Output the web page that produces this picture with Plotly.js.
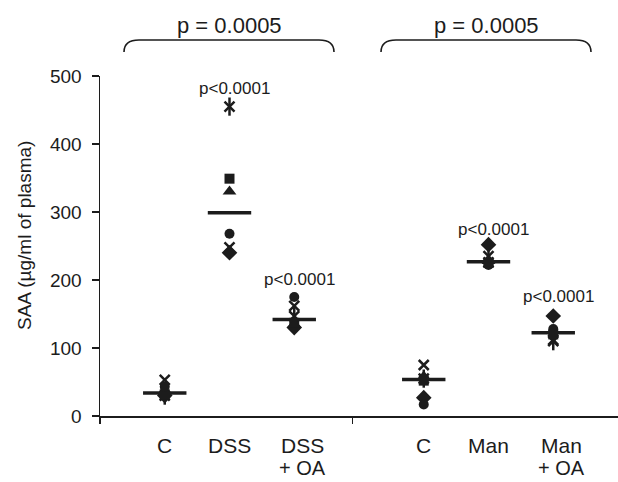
<!DOCTYPE html>
<html>
<head>
<meta charset="utf-8">
<script src="https://cdn.plot.ly/plotly-3.0.1.min.js"></script>
</head>
<body style="margin:0;background:#fff">
<div id="chart" style="width:618px;height:482px"></div>
<script>
// ---- data ----
const groupLine1 = ['C', 'DSS', 'DSS', 'C', 'Man', 'Man'];
const groupLine2 = ['', '', '+ OA', '', '', '+ OA'];
const groupPos = [1, 2, 3, 5, 6, 7];
const valCross   = [53, 248, 162, 75, 226, 112];
const valCircle  = [43, 268, 175, 17, 222, 128];
const valTri     = [36, 330, 135, 58, 228, 125];
const valSquare  = [32, 349, 137, 52, 225, 120];
const valDiamond = [30, 240, 130, 27, 252, 147];
const valStar    = [30, 455, 147, 55, 235, 110];
const pGroupIdx = [1, 2, 4, 5];
const pGroupText = ['p<0.0001', 'p<0.0001', 'p<0.0001', 'p<0.0001'];
const bracketText = ['p = 0.0005', 'p = 0.0005'];

// ---- helpers ----
const INK = '#1c1c1c';
const L = 100, T = 76, PW = 518, PH = 340;
const fx = X => (X - L) / PW;
const fy = Y => (T + PH - Y) / PH;

function median(arr) {
  const s = arr.slice().sort((a, b) => a - b);
  const n = s.length;
  return n % 2 ? s[(n - 1) / 2] : (s[n / 2 - 1] + s[n / 2]) / 2;
}
const allSeries = [valCross, valCircle, valTri, valSquare, valDiamond, valStar];
const medians = groupPos.map((_, i) => median(allSeries.map(s => s[i])));

function mk(vals, symbol, size, open) {
  return {
    type: 'scatter', mode: 'markers', x: groupPos, y: vals, hoverinfo: 'skip',
    marker: open
      ? {symbol: symbol, size: size, color: INK, line: {color: INK, width: 2.5}}
      : {symbol: symbol, size: size, color: INK, line: {width: 0}}
  };
}

const traces = [
  mk(valCross, 'x-thin-open', 10, true),
  mk(valStar, 'x-thin-open', 10, true),
  mk(valStar, 'line-ns-open', 13, true),
  mk(valDiamond, 'diamond', 12, false),
  mk(valSquare, 'square', 10, false),
  mk(valTri, 'triangle-up', 12, false),
  mk(valCircle, 'circle', 10, false),
  {
    type: 'scatter', mode: 'markers', x: groupPos, y: medians, hoverinfo: 'skip',
    marker: {symbol: 'line-ew-open', size: 31, color: INK, line: {color: INK, width: 3.5}}
  }
];

const annotations = [];
groupPos.forEach((p, i) => {
  const shift = groupLine2[i] ? 8 : 0;
  annotations.push({xref: 'x', yref: 'paper', x: p, y: fy(445), xshift: shift,
    text: groupLine1[i], showarrow: false, xanchor: 'center', yanchor: 'middle',
    font: {size: 21, color: INK}});
  if (groupLine2[i]) {
    annotations.push({xref: 'x', yref: 'paper', x: p, y: fy(468), xshift: shift,
      text: groupLine2[i], showarrow: false, xanchor: 'center', yanchor: 'middle',
      font: {size: 20, color: INK}});
  }
});
const pTextY = [89, 279, 230, 296];
pGroupIdx.forEach((gi, k) => {
  annotations.push({xref: 'x', yref: 'paper', x: groupPos[gi], y: fy(pTextY[k]), xshift: 5,
    text: pGroupText[k], showarrow: false, xanchor: 'center', yanchor: 'middle',
    font: {size: 17, color: INK}});
});
// bracket texts
[[124, 334], [381, 591]].forEach((b, k) => {
  annotations.push({xref: 'paper', yref: 'paper', x: fx((b[0] + b[1]) / 2), y: fy(25),
    text: bracketText[k], showarrow: false, xanchor: 'center', yanchor: 'middle',
    font: {size: 22, color: INK}});
});
// y title
annotations.push({xref: 'paper', yref: 'paper', x: fx(24), y: fy(236),
  text: 'SAA (µg/ml of plasma)', textangle: -90, showarrow: false,
  xanchor: 'center', yanchor: 'middle', font: {size: 19, color: INK}});

function bracePath(x0, x1, yTop, yEnd, r) {
  return 'M' + fx(x0) + ',' + fy(yEnd) +
    ' Q' + fx(x0) + ',' + fy(yTop) + ' ' + fx(x0 + r) + ',' + fy(yTop) +
    ' L' + fx(x1 - r) + ',' + fy(yTop) +
    ' Q' + fx(x1) + ',' + fy(yTop) + ' ' + fx(x1) + ',' + fy(yEnd);
}
const shapes = [
  {type: 'path', xref: 'paper', yref: 'paper', path: bracePath(124, 334, 40, 52, 15), line: {color: INK, width: 1.6}},
  {type: 'path', xref: 'paper', yref: 'paper', path: bracePath(381, 591, 40, 52, 15), line: {color: INK, width: 1.6}}
];

const layout = {
  width: 618, height: 482,
  margin: {l: L, r: 618 - L - PW, t: T, b: 482 - T - PH, pad: 0},
  paper_bgcolor: '#fff', plot_bgcolor: '#fff',
  showlegend: false,
  font: {family: 'Liberation Sans, Arial, Helvetica, sans-serif', color: INK},
  xaxis: {range: [0, 8], showline: true, linecolor: INK, linewidth: 1.5,
    ticks: 'outside', tickvals: [0, 3.9], ticklen: 6, tickwidth: 1.5, tickcolor: INK,
    showticklabels: false, showgrid: false, zeroline: false, fixedrange: true},
  yaxis: {range: [0, 500], showline: true, linecolor: INK, linewidth: 1.5,
    ticks: 'outside', tickvals: [0, 100, 200, 300, 400, 500], ticklen: 7, tickwidth: 1.5,
    tickcolor: INK, tickfont: {size: 19, color: INK}, ticklabelstandoff: 6,
    showgrid: false, zeroline: false, fixedrange: true},
  annotations: annotations,
  shapes: shapes
};

Plotly.newPlot('chart', traces, layout, {displayModeBar: false, staticPlot: true});
</script>
</body>
</html>
